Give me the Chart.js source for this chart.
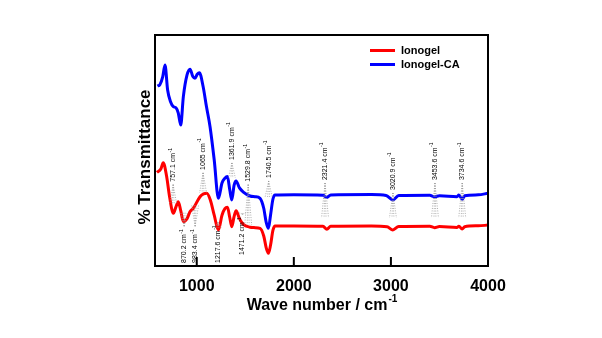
<!DOCTYPE html>
<html lang="en">
<head>
  <meta charset="UTF-8">
  <title>FTIR spectra</title>
  <script src="https://cdn.jsdelivr.net/npm/chart.js"></script>
  <style>
    html, body { margin: 0; padding: 0; background: #fff; }
    #chart-container { width: 602px; height: 338px; }
  </style>
</head>
<body>
  <div id="chart-container">
    <canvas id="ftirChart" width="602" height="338"></canvas>
  </div>
  <script>
    // Spectra (wave number in cm-1, transmittance in arbitrary %)
    const seriesNames = ['Ionogel', 'Ionogel-CA'];
    const seriesColors = ['#ff0000', '#0000ff'];

    const wnIonogel = [590, 630, 655, 690, 720, 759, 785, 810, 835, 862, 900, 930, 965, 1034, 1070, 1103, 1140, 1180, 1223, 1260, 1290, 1316, 1340, 1361, 1385, 1405, 1440, 1480, 1549, 1600, 1652, 1690, 1715, 1738, 1760, 1785, 1807, 2000, 2300, 2340, 2380, 2800, 2960, 3020, 3080, 3400, 3450, 3500, 3680, 3700, 3734, 3760, 3900, 4000];
    const tIonogel = [40.5, 42, 44.7, 38.7, 30, 22.8, 25.5, 27.8, 24, 19.2, 20.5, 23.5, 25.0, 30.0, 31.2, 31.5, 28.6, 22, 15.6, 22, 24.8, 25.4, 21, 17.0, 21.5, 23.9, 20.5, 18, 16.8, 16.6, 16.3, 13, 8, 5.5, 9, 15.5, 17.3, 17.3, 17.2, 15.9, 17.2, 17.3, 17.0, 15.6, 17.1, 17.2, 16.6, 17.1, 16.7, 17.2, 16.0, 17.0, 17.4, 17.7];

    const wnIonogelCA = [595, 620, 650, 673, 700, 730, 759, 786, 810, 835, 862, 900, 931, 960, 982, 1005, 1027, 1066, 1100, 1137, 1180, 1223, 1260, 1290, 1316, 1340, 1361, 1385, 1405, 1440, 1480, 1549, 1600, 1652, 1690, 1715, 1738, 1760, 1785, 1807, 2000, 2300, 2340, 2380, 2800, 2950, 3020, 3080, 3400, 3450, 3500, 3680, 3700, 3734, 3760, 3900, 4000];
    const tIonogelCA = [77.9, 78.5, 82, 87.0, 76.2, 71.1, 69.0, 68.5, 66.2, 61.0, 73.3, 82.7, 85.2, 82, 81.3, 83, 83.7, 77.6, 69.0, 60.3, 45.9, 29.3, 35.9, 38, 38.7, 33, 28.6, 35, 36.8, 33.8, 32, 30.3, 30, 29.3, 25, 19, 16.3, 22, 29, 30.7, 30.8, 30.6, 29.7, 30.7, 30.9, 30.5, 28.6, 30.5, 30.6, 30.0, 30.4, 30.0, 30.7, 28.9, 30.4, 30.8, 31.5];

    const xTicks = [1000, 2000, 3000, 4000];

    // Peak labels: wave number, label text, where the text starts and where the dotted lines end (y units)
    const peakLabels = [
      { wn: 757.1, text: '757.1 cm', from: 36.5, to: 27, side: 'up' },
      { wn: 1065, text: '1065 cm', from: 41.6, to: 31.6, side: 'up' },
      { wn: 1361.9, text: '1361.9 cm', from: 45.9, to: 38.1, side: 'up' },
      { wn: 1529.8, text: '1529.8 cm', from: 36.5, to: 17.7, side: 'up' },
      { wn: 1740.5, text: '1740.5 cm', from: 38.1, to: 29.9, side: 'up' },
      { wn: 2321.4, text: '2321.4 cm', from: 37.2, to: 20.8, side: 'up' },
      { wn: 3020.9, text: '3020.9 cm', from: 32.9, to: 20.8, side: 'up' },
      { wn: 3453.6, text: '3453.6 cm', from: 37.2, to: 20.8, side: 'up' },
      { wn: 3734.6, text: '3734.6 cm', from: 37.2, to: 20.8, side: 'up' },
      { wn: 870.2, text: '870.2 cm', from: 1.3, to: 23.4, side: 'down' },
      { wn: 983.4, text: '983.4 cm', from: 1.3, to: 26.4, side: 'down' },
      { wn: 1217.6, text: '1217.6 cm', from: 1.3, to: 16.5, side: 'down' },
      { wn: 1471.2, text: '1471.2 cm', from: 4.8, to: 23, side: 'down' }
    ];

    function toPoints(xs, ys) {
      return xs.map((x, i) => ({ x: x, y: ys[i] }));
    }

    // Frame, inward ticks, legend, axis titles and peak labels
    const decorPlugin = {
      id: 'decorPlugin',
      afterDraw(chart) {
        const { ctx, chartArea: { left, top, right, bottom } } = chart;
        const xs = chart.scales.x;
        const ys = chart.scales.y;
        ctx.save();

        // peak labels with dotted guide lines
        ctx.font = '7px Arial';
        ctx.textBaseline = 'middle';
        ctx.textAlign = 'left';
        peakLabels.forEach(p => {
          const x = xs.getPixelForValue(p.wn);
          const y0 = ys.getPixelForValue(p.from);
          const w = ctx.measureText(p.text).width;
          ctx.save();
          ctx.translate(x, y0);
          ctx.rotate(-Math.PI / 2);
          ctx.fillStyle = '#000';
          ctx.font = '7px Arial';
          ctx.fillText(p.text, 0, 0);
          ctx.font = '5px Arial';
          ctx.fillText('-1', w + 0.5, -3);
          ctx.restore();

          const yStart = p.side === 'up' ? y0 + 3 : y0 - w - 8;
          const yEnd = ys.getPixelForValue(p.to);
          ctx.strokeStyle = '#999';
          ctx.lineWidth = 0.8;
          ctx.setLineDash([1, 1.5]);
          [-3.5, -1, 1, 3.5].forEach(dx => {
            ctx.beginPath();
            ctx.moveTo(x, yStart);
            ctx.lineTo(x + dx, yEnd);
            ctx.stroke();
          });
          ctx.setLineDash([]);
        });

        // frame
        ctx.strokeStyle = '#000';
        ctx.lineWidth = 2;
        ctx.strokeRect(left, top, right - left, bottom - top);

        // inward tick marks
        xTicks.forEach(v => {
          const x = xs.getPixelForValue(v);
          ctx.beginPath();
          ctx.moveTo(x, bottom);
          ctx.lineTo(x, bottom - 9);
          ctx.stroke();
        });

        // legend
        ctx.font = 'bold 11px Arial';
        ctx.textAlign = 'left';
        ctx.textBaseline = 'middle';
        seriesNames.forEach((name, i) => {
          const y = 50.5 + i * 14;
          ctx.strokeStyle = seriesColors[i];
          ctx.lineWidth = 3;
          ctx.beginPath();
          ctx.moveTo(370, y);
          ctx.lineTo(395, y);
          ctx.stroke();
          ctx.fillStyle = '#000';
          ctx.fillText(name, 401, y);
        });

        // x title with superscript
        ctx.fillStyle = '#000';
        ctx.font = 'bold 16px Arial';
        const main = 'Wave number / cm';
        const mw = ctx.measureText(main).width;
        ctx.font = 'bold 10px Arial';
        const sw = ctx.measureText('-1').width;
        const startX = (left + right) / 2 - (mw + sw) / 2;
        ctx.font = 'bold 16px Arial';
        ctx.fillText(main, startX, 306);
        ctx.font = 'bold 10px Arial';
        ctx.fillText('-1', startX + mw + 1, 299);

        // y title
        ctx.save();
        ctx.translate(145, 157);
        ctx.rotate(-Math.PI / 2);
        ctx.textAlign = 'center';
        ctx.font = 'bold 17px Arial';
        ctx.fillText('% Transmittance', 0, 0);
        ctx.restore();

        ctx.restore();
      }
    };

    const ctx = document.getElementById('ftirChart').getContext('2d');
    const ftirChart = new Chart(ctx, {
      type: 'line',
      data: {
        datasets: [
          {
            label: seriesNames[0],
            data: toPoints(wnIonogel, tIonogel),
            borderColor: seriesColors[0],
            borderWidth: 3,
            pointRadius: 0,
            cubicInterpolationMode: 'monotone',
            fill: false
          },
          {
            label: seriesNames[1],
            data: toPoints(wnIonogelCA, tIonogelCA),
            borderColor: seriesColors[1],
            borderWidth: 3,
            pointRadius: 0,
            cubicInterpolationMode: 'monotone',
            fill: false
          }
        ]
      },
      options: {
        responsive: false,
        animation: false,
        layout: { padding: { left: 155, right: 114, top: 35, bottom: 0 } },
        plugins: {
          legend: { display: false },
          tooltip: { enabled: false }
        },
        scales: {
          x: {
            type: 'linear',
            min: 570,
            max: 4000,
            afterBuildTicks(scale) {
              scale.ticks = xTicks.map(v => ({ value: v }));
            },
            afterFit(scale) {
              scale.height = 72;
            },
            grid: { display: false, drawTicks: false },
            border: { display: false },
            ticks: {
              color: '#000',
              padding: 11,
              maxRotation: 0,
              font: { family: 'Arial', size: 16, weight: 'bold' },
              callback: value => String(value)
            }
          },
          y: {
            display: false,
            min: 0,
            max: 100
          }
        }
      },
      plugins: [decorPlugin]
    });
  </script>
</body>
</html>
